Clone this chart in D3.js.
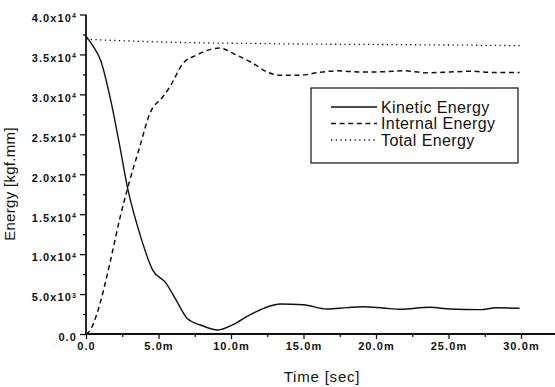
<!DOCTYPE html>
<html lang="en">
<head>
  <meta charset="UTF-8">
  <title>Energy vs Time</title>
  <script src="https://d3js.org/d3.v7.min.js"></script>
  <style>
    body { margin: 0; background: #fff; }
    svg { display: block; font-family: "Liberation Sans", Arial, sans-serif; }
    .tick text { font-size: 11px; font-weight: bold; letter-spacing: 1.1px; fill: #111; }
    .domain, .tick line { stroke: #111; }
  </style>
</head>
<body>
  <div id="chart"></div>
  <script>
    // time in ms (x axis labels end in "m")
    const kineticTime = [0, 0.5, 1.0, 1.7, 2.3, 2.9, 3.7, 4.6, 5.5, 6.2, 7.0, 7.9, 9.1, 10.1, 11.3, 12.3, 13.4, 15.0, 16.6, 18.0, 19.1, 20.5, 21.7, 23.7, 25.1, 27.2, 28.3, 29.9];
    const kineticEnergy = [37300, 36000, 34300, 29300, 23800, 18000, 12600, 8000, 6400, 4300, 1900, 1130, 500, 1130, 2400, 3250, 3750, 3670, 3130, 3300, 3420, 3250, 3090, 3340, 3130, 3050, 3280, 3220];

    const internalTime = [0, 0.3, 0.75, 1.7, 2.35, 3.0, 3.7, 4.4, 5.3, 5.8, 6.7, 7.6, 9.2, 10.4, 11.5, 12.5, 13.4, 14.8, 15.9, 17.3, 18.9, 20.5, 21.9, 23.5, 25.1, 26.5, 28.1, 29.9];
    const internalEnergy = [0, 500, 2500, 9300, 14600, 19100, 23400, 27600, 29700, 31000, 33900, 34900, 35800, 34900, 33900, 32800, 32400, 32400, 32700, 32950, 32800, 32830, 32950, 32700, 32800, 32900, 32750, 32750];

    const totalTime = [0, 2, 4.4, 7.9, 11.3, 15, 20, 25, 30];
    const totalEnergy = [36900, 36750, 36600, 36450, 36380, 36300, 36250, 36180, 36100];

    const xTicks = [0, 5, 10, 15, 20, 25, 30];
    const xTickLabels = ['0.0', '5.0m', '10.0m', '15.0m', '20.0m', '25.0m', '30.0m'];
    const yTicks = [0, 5000, 10000, 15000, 20000, 25000, 30000, 35000, 40000];
    const yTickLabels = [['0.0', ''], ['5.0x10', '3'], ['1.0x10', '4'], ['1.5x10', '4'], ['2.0x10', '4'],
                         ['2.5x10', '4'], ['3.0x10', '4'], ['3.5x10', '4'], ['4.0x10', '4']];
    const seriesNames = ['Kinetic Energy', 'Internal Energy', 'Total Energy'];

    const W = 555, H = 387;
    const svg = d3.select('#chart').append('svg').attr('width', W).attr('height', H);

    const x = d3.scaleLinear().domain([0, 30]).range([86, 521]);
    const y = d3.scaleLinear().domain([0, 40000]).range([334, 14.5]);

    // x axis (line runs on to the right edge)
    const xAxis = svg.append('g').attr('transform', `translate(0,${y(0)})`);
    xAxis.call(d3.axisBottom(x).tickValues(xTicks).tickSize(5).tickPadding(3)
      .tickFormat((d, i) => xTickLabels[i]));
    xAxis.select('.domain').remove();
    xAxis.append('line').attr('x1', x(0)).attr('x2', W).attr('stroke', '#111').attr('stroke-width', 1.8);
    svg.append('g').attr('transform', `translate(0,${y(0)})`)
      .call(d3.axisBottom(x).tickValues(d3.range(2.5, 32, 5)).tickSize(3).tickFormat(''))
      .select('.domain').remove();

    // y axis
    const yAxis = svg.append('g').attr('transform', `translate(${x(0)},0)`);
    yAxis.call(d3.axisLeft(y).tickValues(yTicks).tickSize(6).tickPadding(3).tickFormat(''));
    yAxis.select('.domain').attr('stroke-width', 1.8).attr('d', `M0,${y(0)}V${y(40000)}`);
    yAxis.selectAll('.tick').each(function (d, i) {
      const t = d3.select(this).select('text').attr('dy', '0.62em');
      t.append('tspan').text(yTickLabels[i][0]);
      if (yTickLabels[i][1]) {
        t.append('tspan').attr('dy', '-0.55em').style('font-size', '7px').text(yTickLabels[i][1]);
      }
    });
    svg.append('g').attr('transform', `translate(${x(0)},0)`)
      .call(d3.axisLeft(y).tickValues(d3.range(2500, 40000, 5000)).tickSize(3).tickFormat(''))
      .select('.domain').remove();
    svg.selectAll('.tick line').attr('stroke-width', 1.3);

    // axis titles
    svg.append('text').attr('x', 322).attr('y', 382).attr('text-anchor', 'middle')
      .style('font-size', '15px').style('letter-spacing', '0.8px').attr('fill', '#111').text('Time [sec]');
    svg.append('text').attr('transform', 'translate(15,184) rotate(-90)').attr('text-anchor', 'middle')
      .style('font-size', '15px').style('letter-spacing', '0.3px').attr('fill', '#111').text('Energy [kgf.mm]');

    // series
    const line = d3.line().x(d => x(d[0])).y(d => y(d[1])).curve(d3.curveMonotoneX);
    const series = [
      { pts: d3.zip(kineticTime, kineticEnergy), dash: null, w: 1.4 },
      { pts: d3.zip(internalTime, internalEnergy), dash: '5,3.6', w: 1.5 },
      { pts: d3.zip(totalTime, totalEnergy), dash: '1.3,3.4', w: 1.3 }
    ];
    series.forEach(s => {
      svg.append('path').attr('d', line(s.pts)).attr('fill', 'none').attr('stroke', '#111')
        .attr('stroke-width', s.w).attr('stroke-dasharray', s.dash);
    });

    // legend
    const lg = svg.append('g');
    lg.append('rect').attr('x', 311).attr('y', 88).attr('width', 207).attr('height', 75)
      .attr('fill', '#fff').attr('stroke', '#111').attr('stroke-width', 1.2);
    seriesNames.forEach((name, i) => {
      const ry = 107 + i * 16.5;
      lg.append('line').attr('x1', 331).attr('x2', 377).attr('y1', ry).attr('y2', ry)
        .attr('stroke', '#111').attr('stroke-width', series[i].w).attr('stroke-dasharray', series[i].dash);
      lg.append('text').attr('x', 381).attr('y', ry + 5.5).style('font-size', '16px')
        .style('letter-spacing', '0.4px').attr('fill', '#111').text(name);
    });
  </script>
</body>
</html>
